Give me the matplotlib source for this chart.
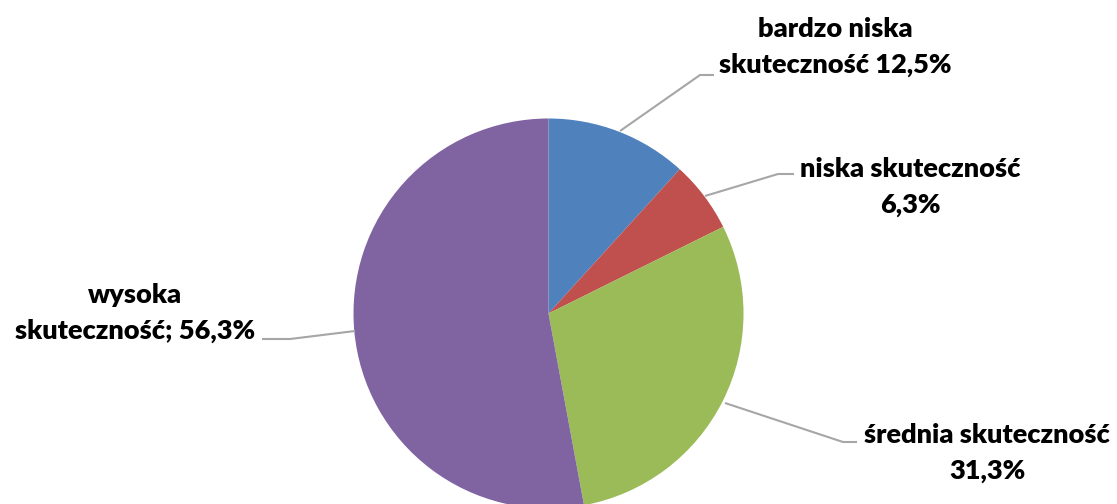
import matplotlib
matplotlib.use("Agg")
import matplotlib.pyplot as plt

categories = ["bardzo niska\nskuteczność 12,5%", "niska skuteczność\n6,3%",
              "średnia skuteczność\n31,3%", "wysoka\nskuteczność; 56,3%"]
values = [12.5, 6.3, 31.3, 56.3]
colors = ["#4F81BD", "#C0504D", "#9BBB59", "#8064A2"]

W, H = 1117, 504
fig = plt.figure(figsize=(W / 100, H / 100), dpi=100)
ax = fig.add_axes([0, 0, 1, 1])

cx, cy, r = 548.5, H - 313.5, 195
ax.pie(values, colors=colors, startangle=90, counterclock=False,
       center=(cx, cy), radius=r, frame=True,
       wedgeprops=dict(linewidth=0))
ax.set_xlim(0, W)
ax.set_ylim(0, H)
ax.set_aspect("equal")
ax.axis("off")

# label positions (pixel coords, y from top) and leader lines
label_pos = [(835, 47), (910, 187), (987, 453), (135, 313)]
leaders = [
    [(620, 131), (700, 75), (714, 75)],
    [(705, 196), (778, 174), (794, 174)],
    [(725, 403), (843, 442), (857, 442)],
    [(355, 331), (290, 339), (262, 339)],
]
for lab, (x, y), pts in zip(categories, label_pos, leaders):
    ax.text(x, H - y, lab, ha="center", va="center", fontsize=19.5,
            fontweight="heavy", family=["Lato", "DejaVu Sans"],
            linespacing=1.55, color="#000000")
    xs = [p[0] for p in pts]
    ys = [H - p[1] for p in pts]
    ax.plot(xs, ys, color="#A6A6A6", lw=1.5, solid_capstyle="butt")

fig.savefig("out.png", dpi=100)
